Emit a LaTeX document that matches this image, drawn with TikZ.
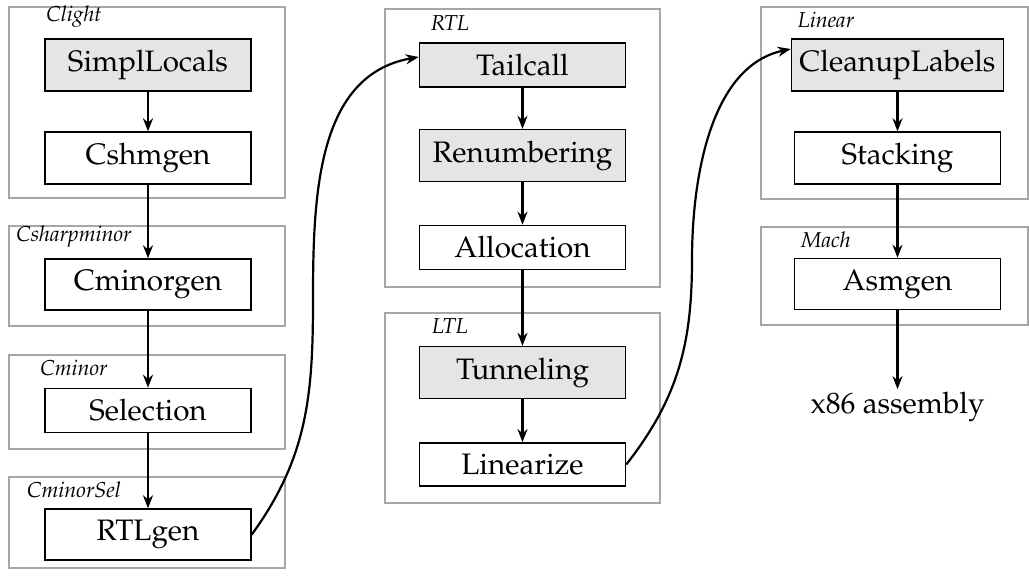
\documentclass[tikz,border=0pt]{standalone}
\usepackage[T1]{fontenc}
\usepackage{mathpazo}
\usetikzlibrary{arrows.meta}
\tikzset{
  pass/.style={draw=black, line width=0.8pt, minimum width=103pt,
    inner xsep=4pt, inner ysep=5.5pt, font=\fontsize{14.8}{17}\selectfont},
  opt/.style={pass, fill=black!10},
  group/.style={draw=black!35, line width=0.7pt},
  lang/.style={anchor=base, inner sep=0pt, font=\fontsize{10.8}{12}\selectfont\itshape},
  flow/.style={-{Stealth[length=6.5pt,width=5pt]}, line width=1.1pt},
}
\begin{document}
\begin{tikzpicture}[x=0.5pt, y=-0.5pt]
  \useasboundingbox (0,0) rectangle (1029,579);

  % intermediate-language groups
  \draw[group] (9,7) rectangle (285,198);
  \draw[group] (9,226) rectangle (285,326);
  \draw[group] (9,355) rectangle (285,449);
  \draw[group] (9,477) rectangle (285,568);
  \draw[group] (385,9) rectangle (660,287);
  \draw[group] (385,313) rectangle (660,503);
  \draw[group] (761,7) rectangle (1028,199);
  \draw[group] (761,227) rectangle (1028,325);

  \node[lang] (lClight) at (74,21) {Clight};
  \node[lang] (lCsharp) at (74,241) {Csharpminor};
  \node[lang] (lCminor) at (74,375) {Cminor};
  \node[lang] (lCminorSel) at (74,497) {CminorSel};
  \node[lang] (lRTL) at (450,30) {RTL};
  \node[lang] (lLTL) at (450,333) {LTL};
  \node[lang] (lLinear) at (826,27) {Linear};
  \node[lang] (lMach) at (826,247) {Mach};

  % compiler passes
  \node[opt]  (SimplLocals) at (148,65) {SimplLocals};
  \node[pass] (Cshmgen) at (148,158) {Cshmgen};
  \node[pass] (Cminorgen) at (148,284.5) {Cminorgen};
  \node[pass] (Selection) at (148,410.5) {Selection};
  \node[pass] (RTLgen) at (148,534.5) {RTLgen};

  \node[opt]  (Tailcall) at (522.5,65) {Tailcall};
  \node[opt]  (Renumbering) at (522.5,155.5) {Renumbering};
  \node[pass] (Allocation) at (522.5,247.5) {Allocation};
  \node[opt]  (Tunneling) at (522.5,372.5) {Tunneling};
  \node[pass] (Linearize) at (522.5,464.5) {Linearize};

  \node[opt]  (CleanupLabels) at (897.5,65) {CleanupLabels};
  \node[pass] (Stacking) at (897.5,158) {Stacking};
  \node[pass] (Asmgen) at (897.5,284) {Asmgen};

  \node[anchor=base, inner sep=1pt, font=\fontsize{14.8}{17}\selectfont]
    (asm) at (897.5,413) {x86 assembly};

  % flow between passes
  \draw[flow] (SimplLocals) -- (Cshmgen);
  \draw[flow] (Cshmgen) -- (Cminorgen);
  \draw[flow] (Cminorgen) -- (Selection);
  \draw[flow] (Selection) -- (RTLgen);

  \draw[flow] (Tailcall) -- (Renumbering);
  \draw[flow] (Renumbering) -- (Allocation);
  \draw[flow] (Allocation) -- (Tunneling);
  \draw[flow] (Tunneling) -- (Linearize);

  \draw[flow] (CleanupLabels) -- (Stacking);
  \draw[flow] (Stacking) -- (Asmgen);
  \draw[flow] (Asmgen) -- (asm);

  \coordinate (bendA) at (313,300);
  \coordinate (bendB) at (692,260);
  \draw[flow] (RTLgen.east) to[out=54, in=-90] (bendA)
    to[out=90, in=190] ([yshift=4pt]Tailcall.west);
  \draw[flow] (Linearize.east) to[out=52, in=-90] (bendB)
    to[out=90, in=192, looseness=0.9] ([yshift=8pt]CleanupLabels.west);
\end{tikzpicture}
\end{document}
